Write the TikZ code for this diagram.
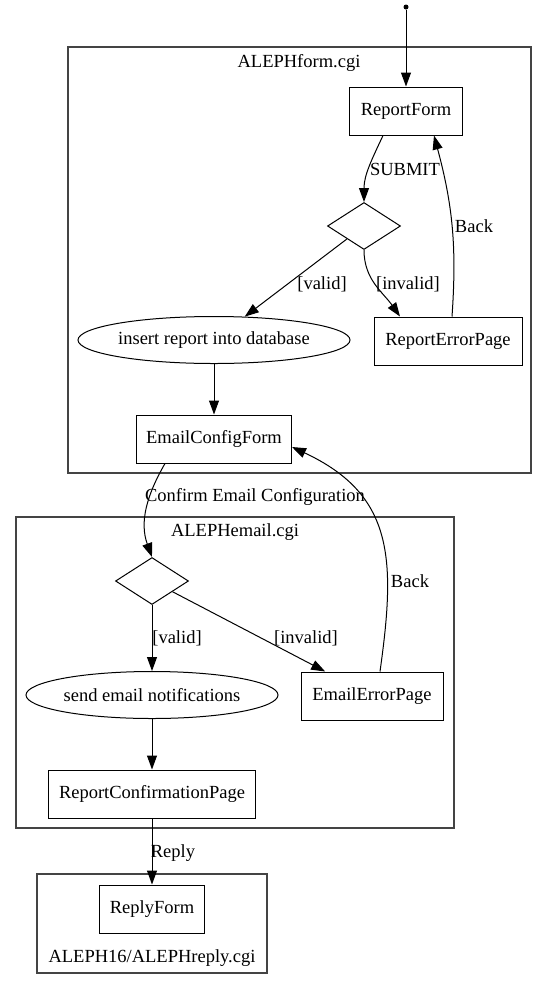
\documentclass[tikz,border=0pt]{standalone}
\usepackage{fontspec}
\setmainfont{Liberation Serif}
\usepackage{tikz}
\usetikzlibrary{shapes.geometric, arrows.meta, positioning}
\definecolor{clusterColor}{RGB}{68, 68, 68}

\begin{document}
\begin{tikzpicture}[
    x=1pt, y=-1pt,
    every node/.style={font=\fontsize{18.5}{22}\selectfont},
    pagebox/.style={
        rectangle,
        draw=black,
        line width=1pt,
        minimum width=#1,
        minimum height=48pt,
        inner sep=2pt
    },
    action/.style={ellipse, draw=black, line width=1pt, minimum width=#1, minimum height=47pt, inner sep=0pt},
    choice/.style={diamond, draw=black, line width=1pt, minimum width=73pt, minimum height=47pt, aspect=1.55, inner sep=0pt},
    cluster/.style={draw=clusterColor, line width=1.3pt},
    arrow/.style={-{Triangle[length=14pt, width=10pt]}, line width=1pt},
    lbl/.style={inner sep=0pt}
]
    \useasboundingbox (0,0) rectangle (548,989);

    % Entry point
    \node[circle, fill=black, inner sep=0pt, minimum size=5pt] (start) at (406,7) {};

    % ALEPHform.cgi
    \draw[cluster] (68,47) rectangle (531,473);
    \node (formTitle) at (299,63) {ALEPHform.cgi};
    \node[pagebox=113pt] (reportForm) at (406,111) {ReportForm};
    \node[choice] (submitCheck) at (364,226) {};
    \node[action=272pt] (insertReport) at (214,340) {insert report into database};
    \node[pagebox=148pt] (reportError) at (448,341) {ReportErrorPage};
    \node[pagebox=155pt] (emailConfig) at (214,439) {EmailConfigForm};

    % ALEPHemail.cgi
    \draw[cluster] (16,517) rectangle (454,828);
    \node (emailTitle) at (235,532) {ALEPHemail.cgi};
    \node[choice] (confirmCheck) at (152,581) {};
    \node[action=252pt] (sendEmail) at (152,695) {send email notifications};
    \node[pagebox=142pt] (emailError) at (372,696) {EmailErrorPage};
    \node[pagebox=207pt] (confirmPage) at (152,794) {ReportConfirmationPage};

    % ALEPH16/ALEPHreply.cgi
    \draw[cluster] (37,874) rectangle (267,973);
    \node[pagebox=105pt] (replyForm) at (152,909) {ReplyForm};
    \node (replyTitle) at (152,958) {ALEPH16/ALEPHreply.cgi};

    % Transitions
    \draw[arrow] (start) -- (reportForm);
    \draw[arrow] ([xshift=-23pt]reportForm.south) to[out=-115, in=90] (submitCheck.north);
    \draw[arrow] ([xshift=4pt]reportError.north) to[out=86, in=-75] ([xshift=28pt]reportForm.south);
    \draw[arrow] (submitCheck) -- (insertReport);
    \draw[arrow] (submitCheck.south) to[out=-90, in=125] ([xshift=-48pt]reportError.north);
    \draw[arrow] (insertReport) -- (emailConfig);
    \draw[arrow] ([xshift=-49pt]emailConfig.south) to[out=-120, in=110] (confirmCheck.north);
    \draw[arrow] ([xshift=8pt]emailError.north) to[out=82, in=-25, looseness=1.2] ([yshift=-8pt]emailConfig.east);
    \draw[arrow] (confirmCheck) -- (sendEmail);
    \draw[arrow] (confirmCheck) -- (emailError);
    \draw[arrow] (sendEmail) -- (confirmPage);
    \draw[arrow] (confirmPage) -- (replyForm);

    % Edge labels
    \node[lbl] (submitLbl) at (405,169) {SUBMIT};
    \node[lbl] (backLbl) at (474,226) {Back};
    \node[lbl] (validLbl) at (322,284) {[valid]};
    \node[lbl] (invalidLbl) at (408,284) {[invalid]};
    \node[lbl] (confirmLbl) at (255,497) {Confirm Email Configuration};
    \node[lbl] (backTwoLbl) at (410,581) {Back};
    \node[lbl] (validTwoLbl) at (177,638) {[valid]};
    \node[lbl] (invalidTwoLbl) at (306,638) {[invalid]};
    \node[lbl] (replyLbl) at (173,853) {Reply};

\end{tikzpicture}
\end{document}
